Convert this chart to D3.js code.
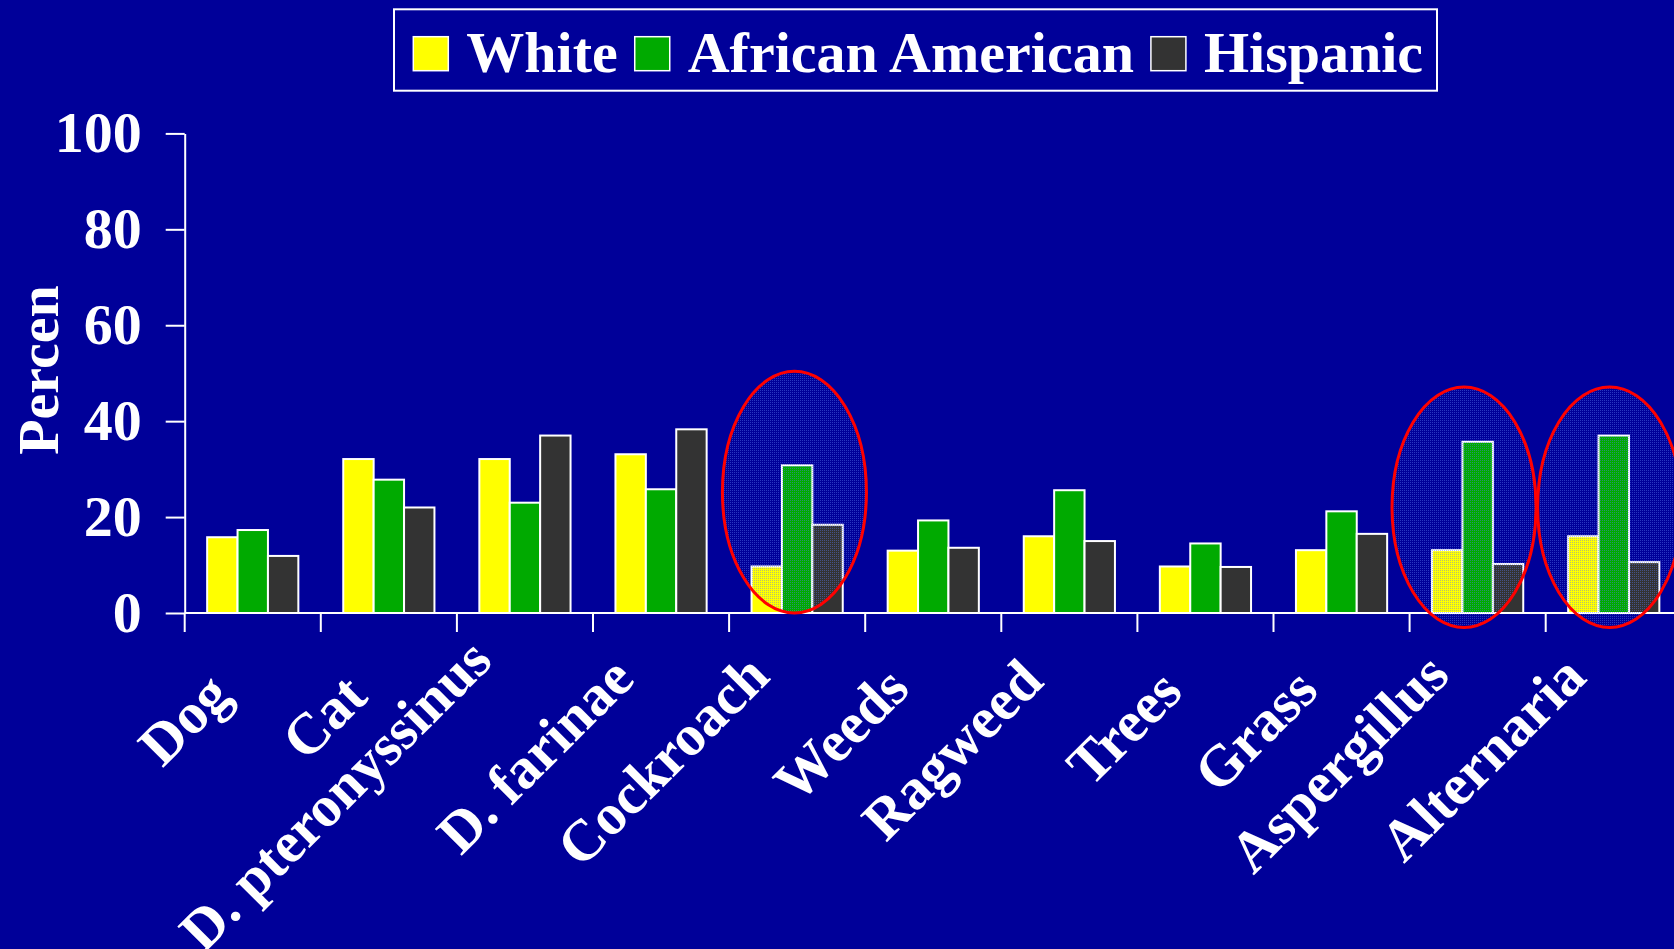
<!DOCTYPE html>
<html>
<head>
<meta charset="utf-8">
<script src="https://cdn.jsdelivr.net/npm/d3@7"></script>
<style>
  html, body { margin: 0; padding: 0; background: #000099; overflow: hidden; }
  text { font-family: "Liberation Serif", "Times New Roman", serif; font-weight: bold; fill: #fff; }
</style>
</head>
<body>
<div id="chart"></div>
<script>
// data
var categories = ["Dog", "Cat", "D. pteronyssinus", "D. farinae", "Cockroach", "Weeds",
                  "Ragweed", "Trees", "Grass", "Aspergillus", "Alternaria"];
var seriesNames = ["White", "African American", "Hispanic"];
var white    = [15.8, 32.1, 32.1, 33.1, 9.7, 13.0, 16.0, 9.7, 13.1, 13.1, 16.0];
var african  = [17.3, 27.8, 23.0, 25.8, 30.8, 19.3, 25.6, 14.5, 21.2, 35.7, 37.0];
var hispanic = [11.9, 22.0, 37.0, 38.3, 18.4, 13.6, 15.0, 9.6, 16.5, 10.2, 10.6];
var yTicks = [0, 20, 40, 60, 80, 100];
var yTitle = "Percen";
// circled groups: category, shift (fraction of band), top and bottom in percent
var circled = [["Cockroach", -0.02, 50.4, 0], ["Aspergillus", -0.1, 47.1, -3], ["Alternaria", -0.03, 47.1, -3]];

var colors = ["#ffff00", "#00aa00", "#333333"];
var values = [white, african, hispanic];

var W = 1674, H = 949;
var x0 = 184.7, step = 136.1;

var svg = d3.select("#chart")
  .append("svg")
  .attr("width", W).attr("height", H);

svg.append("rect").attr("width", W).attr("height", H).attr("fill", "#000099");

var defs = svg.append("defs");
var pat = defs.append("pattern")
  .attr("id", "dots")
  .attr("width", 2).attr("height", 2)
  .attr("patternUnits", "userSpaceOnUse");
pat.append("rect").attr("width", 1).attr("height", 1).attr("fill", "#5a78f0").attr("opacity", 0.45);

var x = d3.scaleBand()
  .domain(categories)
  .range([x0, x0 + step * categories.length])
  .paddingInner(0.33).paddingOuter(0.165);

var xs = d3.scaleBand().domain(seriesNames).range([0, x.bandwidth()]);

var y = d3.scaleLinear().domain([0, 100]).range([613, 133.4]);

// bars
var groups = svg.append("g").selectAll("g")
  .data(categories)
  .enter().append("g")
  .attr("transform", function(d) { return "translate(" + x(d) + ",0)"; });

groups.selectAll("rect")
  .data(function(d, i) { return seriesNames.map(function(s, j) { return {s: s, v: values[j][i], c: colors[j]}; }); })
  .enter().append("rect")
  .attr("x", function(d) { return xs(d.s); })
  .attr("y", function(d) { return y(d.v); })
  .attr("width", xs.bandwidth())
  .attr("height", function(d) { return y(0) - y(d.v); })
  .attr("fill", function(d) { return d.c; })
  .attr("stroke", "#fff")
  .attr("stroke-width", 2);

// y axis
var yAxis = svg.append("g")
  .attr("transform", "translate(" + x0 + ",0)")
  .call(d3.axisLeft(y).tickValues(yTicks).tickSize(19).tickSizeOuter(0).tickPadding(24));
yAxis.select(".domain").attr("stroke", "#fff").attr("stroke-width", 2);
yAxis.selectAll(".tick line").attr("stroke", "#fff").attr("stroke-width", 2);
yAxis.selectAll(".tick text")
  .attr("fill", "#fff")
  .style("font-size", "58px")
  .style("font-family", "'Liberation Serif', 'Times New Roman', serif")
  .style("font-weight", "bold");

// x axis line and ticks at band edges
svg.append("line")
  .attr("x1", x0).attr("x2", W)
  .attr("y1", y(0)).attr("y2", y(0))
  .attr("stroke", "#fff").attr("stroke-width", 2);

svg.append("g").selectAll("line")
  .data(d3.range(categories.length + 1))
  .enter().append("line")
  .attr("x1", function(i) { return x0 + i * x.step(); })
  .attr("x2", function(i) { return x0 + i * x.step(); })
  .attr("y1", y(0)).attr("y2", y(0) + 19)
  .attr("stroke", "#fff").attr("stroke-width", 2);

// x labels, rotated
svg.append("g").selectAll("text")
  .data(categories)
  .enter().append("text")
  .attr("text-anchor", "end")
  .style("font-size", "58px")
  .text(function(d) { return d; })
  .attr("transform", function(d) {
    var L = this.getComputedTextLength();
    var cx = x(d) + x.bandwidth() / 2;
    var ex = cx - 16 - 0.035 * L;
    var ey = y(0) + 96 - 0.112 * L;
    return "translate(" + ex + "," + ey + ") rotate(-45)";
  });

// y title
svg.append("text")
  .attr("transform", "translate(58,370) rotate(-90)")
  .attr("text-anchor", "middle")
  .style("font-size", "58px")
  .text(yTitle);

// circled groups
svg.append("g").selectAll("ellipse")
  .data(circled)
  .enter().append("ellipse")
  .attr("cx", function(d) { return x(d[0]) + x.bandwidth() / 2 + d[1] * x.step(); })
  .attr("cy", function(d) { return (y(d[2]) + y(d[3])) / 2; })
  .attr("rx", 72)
  .attr("ry", function(d) { return (y(d[3]) - y(d[2])) / 2; })
  .attr("fill", "url(#dots)")
  .attr("stroke", "#ff0000")
  .attr("stroke-width", 3);

// legend
var legend = svg.append("g");
legend.append("rect")
  .attr("x", 394).attr("y", 9.3)
  .attr("width", 1043).attr("height", 81.4)
  .attr("fill", "none").attr("stroke", "#fff").attr("stroke-width", 2);

var lx = 413.3;
seriesNames.forEach(function(s, j) {
  legend.append("rect")
    .attr("x", lx).attr("y", 36.7)
    .attr("width", 35).attr("height", 34)
    .attr("fill", colors[j])
    .attr("stroke", "#fff").attr("stroke-width", 1.5);
  var t = legend.append("text")
    .attr("x", lx + 53).attr("y", 71.7)
    .style("font-size", "58px")
    .text(s);
  lx = lx + 53 + t.node().getComputedTextLength() + 17;
});
</script>
</body>
</html>
